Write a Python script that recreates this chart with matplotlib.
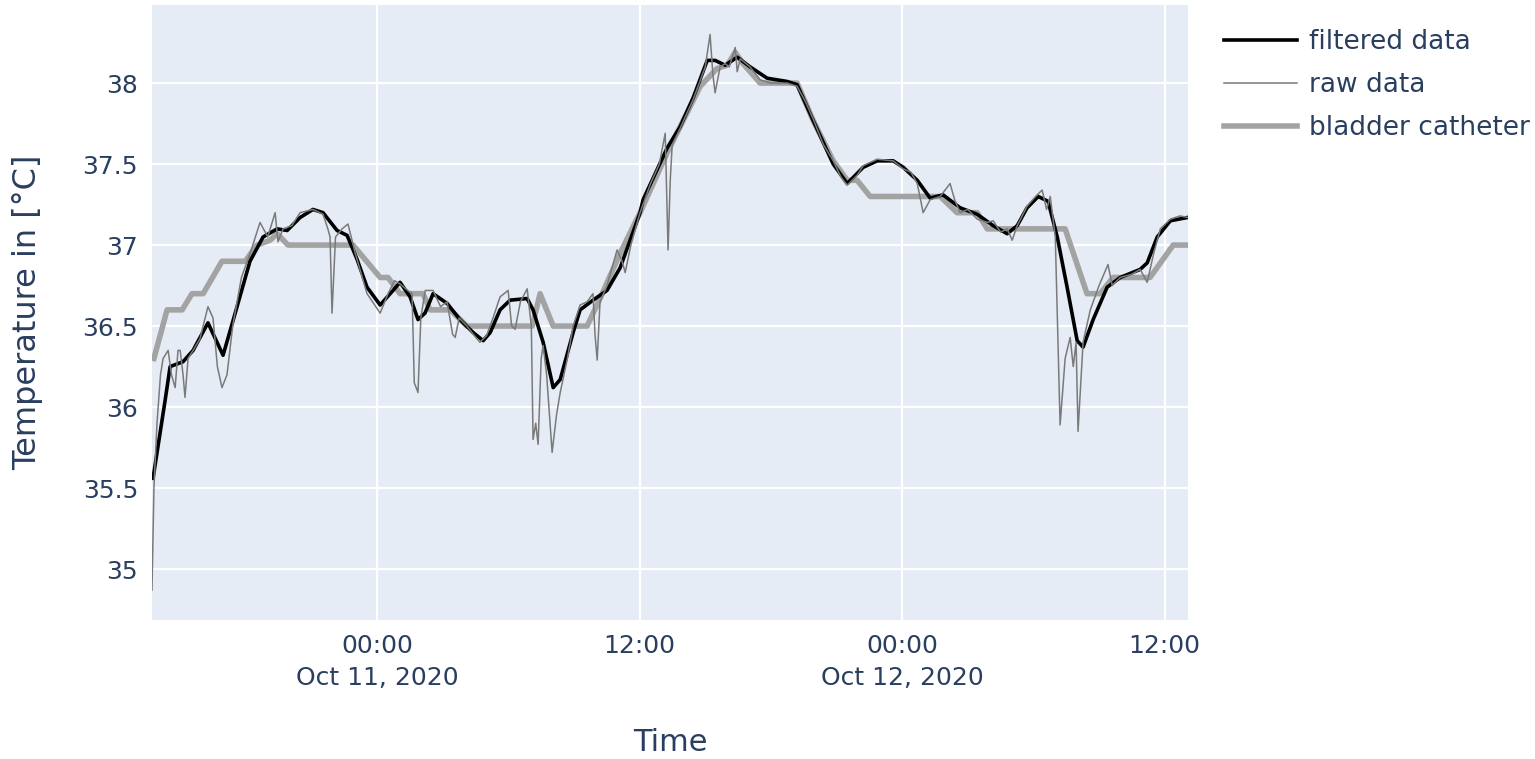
import pandas as pd
import matplotlib
matplotlib.use('Agg')
import matplotlib.pyplot as plt
import matplotlib.dates as mdates
from matplotlib.ticker import FuncFormatter

# hours since 2020-10-10 00:00 and temperature in degC
bladder_h = [13.80, 14.40, 15.09, 15.54, 16.05, 16.91, 17.97, 18.51, 19.11, 19.43, 19.93,
             22.90, 24.14, 24.50, 25.05, 26.10, 26.42, 27.34, 28.11, 31.09, 31.45, 32.05,
             33.60, 34.29, 35.11, 36.02, 37.26, 38.77, 39.54, 40.00, 40.37, 40.73, 41.51,
             43.20, 43.93, 44.85, 45.49, 45.94, 46.54, 49.74, 50.51, 51.43, 51.89, 55.45,
             56.45, 57.05, 57.64, 59.33, 60.39, 60.94]
bladder_t = [36.3, 36.6, 36.6, 36.7, 36.7, 36.9, 36.9, 37.0, 37.03, 37.07, 37.0,
             37.0, 36.8, 36.8, 36.7, 36.7, 36.6, 36.6, 36.5, 36.5, 36.7, 36.5,
             36.5, 36.7, 36.95, 37.2, 37.57, 37.98, 38.09, 38.11, 38.19, 38.12, 38.0,
             38.0, 37.77, 37.52, 37.4, 37.4, 37.3, 37.3, 37.2, 37.2, 37.1, 37.1,
             36.7, 36.7, 36.8, 36.8, 37.0, 37.0]

filt_h = [13.76, 14.31, 14.54, 15.13, 15.59, 16.27, 16.96, 17.60, 18.19, 18.79, 19.43,
          19.89, 20.48, 21.07, 21.53, 22.17, 22.63, 23.09, 23.54, 24.14, 24.73, 25.05,
          25.51, 25.87, 26.19, 26.56, 27.20, 27.79, 28.39, 28.85, 29.17, 29.62, 30.08,
          30.86, 31.13, 31.59, 32.05, 32.37, 32.96, 33.28, 33.87, 34.51, 35.11, 36.02,
          36.16, 37.26, 37.85, 38.45, 39.09, 39.45, 39.91, 40.46, 41.05, 41.83, 42.74,
          43.20, 43.93, 44.85, 45.49, 46.22, 46.86, 47.59, 48.05, 48.69, 49.28, 49.87,
          50.65, 51.43, 52.16, 52.80, 53.26, 53.71, 54.22, 54.67, 55.09, 55.54, 56.00,
          56.27, 56.73, 57.37, 57.97, 58.88, 59.20, 59.66, 60.26, 61.03]
filt_t = [35.56, 36.04, 36.25, 36.28, 36.35, 36.52, 36.32, 36.62, 36.9, 37.05, 37.1,
          37.09, 37.17, 37.22, 37.2, 37.09, 37.06, 36.91, 36.74, 36.63, 36.72, 36.77,
          36.68, 36.54, 36.58, 36.70, 36.64, 36.54, 36.46, 36.41, 36.46, 36.6, 36.66,
          36.67, 36.6, 36.40, 36.12, 36.17, 36.46, 36.6, 36.66, 36.72, 36.86, 37.2,
          37.28, 37.6, 37.73, 37.91, 38.14, 38.14, 38.11, 38.16, 38.1, 38.03, 38.01,
          37.99, 37.77, 37.5, 37.38, 37.48, 37.52, 37.52, 37.48, 37.4, 37.29, 37.31,
          37.23, 37.19, 37.12, 37.07, 37.12, 37.23, 37.3, 37.27, 37.05, 36.74, 36.41,
          36.37, 36.54, 36.74, 36.8, 36.85, 36.89, 37.05, 37.15, 37.17]

raw_h = [13.71, 13.80, 13.94, 14.10, 14.22, 14.45, 14.60, 14.77, 14.90, 15.00, 15.13,
         15.22, 15.36, 15.59, 15.90, 16.27, 16.50, 16.70, 16.91, 17.14, 17.40, 17.80,
         18.20, 18.65, 19.00, 19.34, 19.47, 19.70, 20.10, 20.48, 21.07, 21.53, 21.75,
         21.85, 21.94, 22.10, 22.40, 22.67, 23.00, 23.54, 24.14, 24.50, 24.80, 25.05,
         25.40, 25.60, 25.70, 25.87, 26.00, 26.20, 26.56, 26.90, 27.20, 27.45, 27.57,
         27.75, 28.11, 28.39, 28.70, 29.00, 29.30, 29.62, 29.99, 30.15, 30.31, 30.55,
         30.86, 31.05, 31.13, 31.25, 31.36, 31.50, 31.59, 31.75, 32.00, 32.20, 32.37,
         32.70, 32.96, 33.28, 33.60, 33.87, 33.96, 34.06, 34.19, 34.51, 34.97, 35.20,
         35.34, 35.60, 36.02, 36.50, 36.90, 37.17, 37.30, 37.40, 37.49, 37.85, 38.45,
         39.00, 39.22, 39.35, 39.45, 39.68, 39.91, 40.10, 40.37, 40.46, 40.60, 41.05,
         41.51, 42.00, 42.74, 43.20, 43.60, 43.93, 44.40, 44.85, 45.20, 45.49, 45.94,
         46.22, 46.86, 47.59, 48.05, 48.40, 48.69, 48.96, 49.28, 49.74, 50.19, 50.40,
         50.65, 51.00, 51.43, 51.89, 52.16, 52.50, 52.80, 53.03, 53.26, 53.71, 54.10,
         54.40, 54.60, 54.77, 55.00, 55.22, 55.45, 55.68, 55.82, 55.95, 56.04, 56.27,
         56.60, 57.00, 57.41, 57.60, 57.97, 58.50, 58.88, 59.20, 59.50, 59.80, 60.26,
         60.70, 61.07]
raw_t = [34.87, 35.5, 35.9, 36.2, 36.3, 36.35, 36.2, 36.12, 36.35, 36.35, 36.2,
         36.06, 36.3, 36.35, 36.42, 36.62, 36.55, 36.25, 36.12, 36.2, 36.5, 36.8,
         36.95, 37.14, 37.05, 37.2, 37.02, 37.1, 37.12, 37.2, 37.22, 37.19, 37.1,
         37.05, 36.58, 37.05, 37.1, 37.13, 36.95, 36.7, 36.58, 36.7, 36.78, 36.76,
         36.72, 36.7, 36.15, 36.09, 36.55, 36.72, 36.72, 36.62, 36.65, 36.45, 36.43,
         36.55, 36.5, 36.45, 36.4, 36.44, 36.55, 36.68, 36.72, 36.5, 36.48, 36.65,
         36.73, 36.5, 35.8, 35.9, 35.77, 36.3, 36.38, 36.2, 35.72, 35.95, 36.09,
         36.3, 36.5, 36.63, 36.65, 36.7, 36.45, 36.29, 36.65, 36.75, 36.97, 36.9,
         36.83, 37.0, 37.2, 37.38, 37.5, 37.69, 36.97, 37.4, 37.62, 37.72, 37.9,
         38.1, 38.3, 38.05, 37.94, 38.1, 38.12, 38.1, 38.22, 38.07, 38.15, 38.1,
         38.02, 38.0, 38.0, 37.98, 37.88, 37.78, 37.62, 37.52, 37.42, 37.37, 37.43,
         37.49, 37.53, 37.52, 37.47, 37.45, 37.38, 37.2, 37.28, 37.3, 37.38, 37.28,
         37.2, 37.22, 37.16, 37.14, 37.15, 37.08, 37.1, 37.03, 37.12, 37.24, 37.3,
         37.34, 37.22, 37.3, 37.05, 35.89, 36.3, 36.43, 36.25, 36.4, 35.85, 36.4,
         36.6, 36.75, 36.88, 36.75, 36.8, 36.82, 36.85, 36.77, 36.95, 37.1, 37.16,
         37.18, 37.17]

t0 = pd.Timestamp('2020-10-10 00:00')


def to_time(hours):
    return t0 + pd.to_timedelta(hours, unit='h')


txt = '#2a3f5f'
plt.rcParams['font.family'] = ['DejaVu Sans']

fig = plt.figure(figsize=(15.35, 7.59), dpi=100)
ax = fig.add_axes([0.099, 0.183, 0.675, 0.810])
ax.set_facecolor('#e5ecf6')

ax.plot(to_time(filt_h), filt_t, color='black', lw=2.6, label='filtered data', zorder=3)
ax.plot(to_time(raw_h), raw_t, color='#7a7a7a', lw=1.1, label='raw data', zorder=4)
ax.plot(to_time(bladder_h), bladder_t, color='#a3a3a3', lw=4, label='bladder catheter', zorder=2)

ax.set_xlim(to_time(13.71), to_time(61.07))
ax.set_ylim(34.685, 38.48)
ax.set_yticks([35, 35.5, 36, 36.5, 37, 37.5, 38])
ax.yaxis.set_major_formatter(FuncFormatter(lambda v, p: '%g' % v))

ax.xaxis.set_major_locator(mdates.HourLocator(byhour=[0, 12]))


def fmt_date(v, p):
    d = mdates.num2date(v)
    if d.hour == 0:
        return d.strftime('%H:%M') + '\n' + d.strftime('%b %d, %Y')
    return d.strftime('%H:%M')


ax.xaxis.set_major_formatter(FuncFormatter(fmt_date))

ax.grid(True, color='white', lw=1.6)
ax.set_axisbelow(True)
for s in ax.spines.values():
    s.set_visible(False)
ax.tick_params(length=0, labelsize=18, colors=txt, pad=10)
for lbl in ax.get_xticklabels():
    lbl.set_linespacing(1.4)

ax.set_xlabel('Time', fontsize=22, color=txt, labelpad=28)
ax.set_ylabel('Temperature in [°C]', fontsize=23, color=txt, labelpad=28)

leg = ax.legend(loc='upper left', bbox_to_anchor=(1.012, 1.0), frameon=False,
                fontsize=19, handlelength=2.75, labelspacing=0.65, handletextpad=0.45)
for t in leg.get_texts():
    t.set_color(txt)

fig.savefig('out.png', dpi=100)
